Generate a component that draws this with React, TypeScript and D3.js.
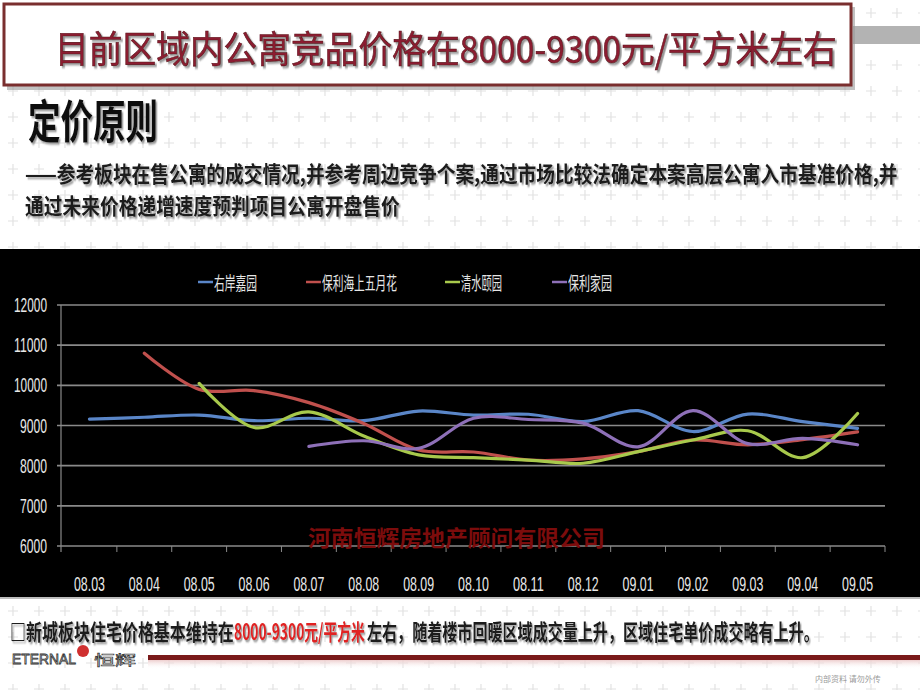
import React, { useLayoutEffect, useRef, useState } from "react";
import * as d3 from "d3";

const categories = ["08.03","08.04","08.05","08.06","08.07","08.08","08.09","08.10","08.11","08.12","09.01","09.02","09.03","09.04","09.05"];
const seriesNames = ["右岸嘉园", "保利海上五月花", "清水颐园", "保利家园"];
const blueValues = [9160, 9205, 9260, 9120, 9180, 9120, 9360, 9260, 9280, 9100, 9370, 8850, 9285, 9095, 8930];
const redValues = [null, 10800, 9900, 9870, 9570, 9050, 8390, 8340, 8140, 8170, 8350, 8640, 8520, 8650, 8840];
const greenValues = [null, null, 10050, 8950, 9340, 8740, 8270, 8200, 8140, 8060, 8350, 8640, 8870, 8200, 9300];
const purpleValues = [null, null, null, null, 8480, 8620, 8430, 9180, 9150, 9060, 8470, 9370, 8550, 8680, 8520];
const yTicks = [6000, 7000, 8000, 9000, 10000, 11000, 12000];

const colors = ["#5a86c8", "#c0504d", "#a8c94c", "#8e70b8"];
const legendX = [198, 306, 445, 552];
const legendW = [43, 75, 41, 44];

const CJK = "'Noto Sans CJK SC', sans-serif";
const NUM = "'Liberation Sans', Arial, sans-serif";

type FitProps = {
  x: number;
  y: number;
  width: number;
  children: React.ReactNode;
  [k: string]: any;
};

function FitText({ x, y, width, children, ...rest }: FitProps) {
  const ref = useRef<SVGTextElement>(null);
  const [s, setS] = useState(1);
  useLayoutEffect(() => {
    if (ref.current) {
      const w = ref.current.getComputedTextLength();
      if (w > 0) setS(width / w);
    }
  }, [width, children]);
  return (
    <text ref={ref} transform={`translate(${x},${y}) scale(${s},1)`} {...rest}>
      {children}
    </text>
  );
}

export default function App() {
  const W = 920, H = 690;
  const x = d3.scaleBand<string>().domain(categories).range([62, 885]);
  const y = d3.scaleLinear().domain([6000, 12000]).range([546, 305]);
  const allSeries = [blueValues, redValues, greenValues, purpleValues];
  const line = d3.line<number | null>()
    .defined((d) => d != null)
    .x((_, i) => (x(categories[i]) as number) + x.bandwidth() / 2)
    .y((d) => y(d as number))
    .curve(d3.curveCatmullRom.alpha(0.5));

  return (
    <svg width={W} height={H} style={{ position: "absolute", left: 0, top: 0 }}>
      <defs>
        <pattern id="cross" width="26" height="26" patternUnits="userSpaceOnUse">
          <path d="M13 8 V18 M8 13 H18" stroke="#e2e2e2" strokeWidth="1.2" />
        </pattern>
        <linearGradient id="fade" x1="0" y1="0" x2="0" y2="1">
          <stop offset="0" stopColor="#e9c3c3" />
          <stop offset="1" stopColor="#ffffff" stopOpacity="0" />
        </linearGradient>
        <filter id="shadow" x="-5%" y="-20%" width="110%" height="150%">
          <feDropShadow dx="2" dy="2" stdDeviation="0.8" floodColor="#777" floodOpacity="0.8" />
        </filter>
      </defs>
      <rect x={0} y={0} width={W} height={H} fill="#ffffff" />
      <rect x={0} y={0} width={W} height={H} fill="url(#cross)" />

      {/* Title box */}
      <rect x={853} y={26} width={67} height={18} fill="#b3b3b3" />
      <rect x={7} y={7} width={848} height={83} fill="#9a9a9a" opacity={0.6} />
      <rect x={4} y={4} width={847} height={81} fill="#ffffff" stroke="#7a2e2e" strokeWidth={3} />
      <FitText x={55} y={63} width={782} fontFamily={CJK} fontSize={37} fill="#8c1f30" stroke="#5a0f18" strokeWidth={0.6} filter="url(#shadow)">目前区域内公寓竞品价格在8000-9300元/平方米左右</FitText>

      {/* Heading */}
      <FitText x={28} y={138} width={130} fontFamily={CJK} fontSize={46} fontWeight="bold" fill="#111" filter="url(#shadow)">定价原则</FitText>
      <FitText x={25} y={182} width={873} fontFamily={CJK} fontSize={22} fontWeight="bold" fill="#1a1a1a" filter="url(#shadow)">——参考板块在售公寓的成交情况,并参考周边竞争个案,通过市场比较法确定本案高层公寓入市基准价格,并</FitText>
      <FitText x={25} y={214} width={375} fontFamily={CJK} fontSize={22} fontWeight="bold" fill="#1a1a1a" filter="url(#shadow)">通过未来价格递增速度预判项目公寓开盘售价</FitText>

      {/* Chart panel */}
      <rect x={0} y={249} width={W} height={348} fill="#000000" />
      <line x1={0} x2={W} y1={598} y2={598} stroke="#bdbdbd" strokeWidth={2} />

      {/* Legend */}
      {seriesNames.map((name, i) => (
        <g key={name}>
          <line x1={legendX[i]} x2={legendX[i] + 15} y1={282} y2={282} stroke={colors[i]} strokeWidth={2.5} />
          <FitText x={legendX[i] + 16} y={290} width={legendW[i]} fontFamily={CJK} fontSize={18} fill="#e6e6e6">{name}</FitText>
        </g>
      ))}

      {/* Grid */}
      {yTicks.map((t) => (
        <g key={t}>
          <line x1={57} x2={885} y1={y(t)} y2={y(t)} stroke="#8a8a8a" strokeWidth={1.6} />
          <FitText x={47} y={y(t) + 7} width={t >= 10000 ? 33 : 27} textAnchor="end" fontFamily={NUM} fontSize={21} fill="#e8e8e8">{t}</FitText>
        </g>
      ))}
      <line x1={61} x2={61} y1={305} y2={552} stroke="#8a8a8a" strokeWidth={1.2} />
      {categories.map((c) => (
        <line key={"tk" + c} x1={(x(c) as number) + x.bandwidth()} x2={(x(c) as number) + x.bandwidth()} y1={546} y2={552} stroke="#8a8a8a" strokeWidth={1} />
      ))}
      {categories.map((c) => (
        <FitText key={c} x={(x(c) as number) + x.bandwidth() / 2} y={591} width={31} textAnchor="middle" fontFamily={NUM} fontSize={21} fill="#e8e8e8">{c}</FitText>
      ))}

      {/* Watermark */}
      <FitText x={308} y={546} width={297} fontFamily={CJK} fontSize={22} fontWeight="bold" fill="#7c0c0c">河南恒辉房地产顾问有限公司</FitText>

      {/* Lines */}
      {allSeries.map((s, i) => (
        <path key={i} d={line(s) || ""} fill="none" stroke={colors[i]} strokeWidth={3.2} strokeLinecap="round" />
      ))}

      {/* Bottom note */}
      <FitText x={10} y={640} width={224} fontFamily={CJK} fontSize={22} fontWeight="bold" fill="#1a1a1a" filter="url(#shadow)">□新城板块住宅价格基本维持在</FitText>
      <FitText x={234} y={640} width={131} fontFamily={CJK} fontSize={22} fontWeight="bold" fill="#e02020" filter="url(#shadow)">8000-9300元/平方米</FitText>
      <FitText x={367} y={640} width={452} fontFamily={CJK} fontSize={22} fontWeight="bold" fill="#1a1a1a" filter="url(#shadow)">左右，随着楼市回暖区域成交量上升，区域住宅单价成交略有上升。</FitText>

      {/* Logo */}
      <FitText x={12} y={664} width={64} fontFamily={NUM} fontSize={14} fill="#ffffff" stroke="#333" strokeWidth={0.8}>ETERNAL</FitText>
      <circle cx={83} cy={651} r={6} fill="#d03030" />
      <FitText x={94} y={665} width={42} fontFamily={CJK} fontSize={14} fill="#ffffff" stroke="#333" strokeWidth={0.6}>恒辉</FitText>
      <rect x={148} y={659} width={772} height={10} fill="url(#fade)" />
      <rect x={148} y={655} width={772} height={5} fill="#7a1a1a" />
      <text x={815} y={682} fontFamily={CJK} fontSize={8} fill="#9a9a9a">内部资料 请勿外传</text>
    </svg>
  );
}
